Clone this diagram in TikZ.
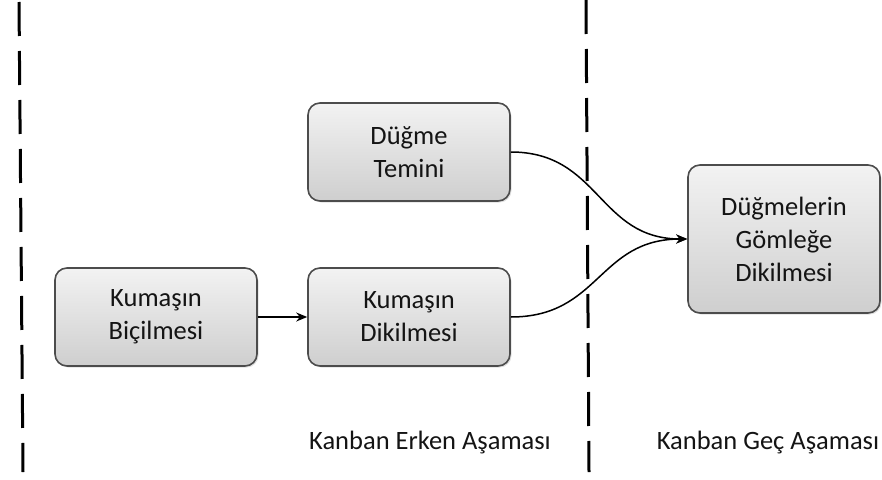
\documentclass[tikz,border=0pt]{standalone}
\usepackage{fontspec}
\setmainfont{Carlito}
\usepackage{tikz}
\usetikzlibrary{positioning,arrows.meta,shadows}

\begin{document}
\begin{tikzpicture}[x=1pt,y=-1pt,
		step box/.style={draw=black!70, line width=1.6pt, rounded corners=12pt,
			top color=black!5, bottom color=black!19, text=black!92,
			drop shadow={shadow xshift=1.5pt, shadow yshift=-1.5pt, opacity=0.25},
			align=center, font=\fontsize{26.5}{33}\selectfont, inner sep=0pt},
		phase/.style={black, line width=3pt, dash pattern=on 34pt off 15pt},
		link/.style={black, line width=1.5pt, -{Stealth[length=11pt,width=9pt]}}]
				\useasboundingbox (0,0) rectangle (882,479);
				% phase borders
				\draw[phase] (19,2) -- (23,472);
				\draw[phase] (586,0) -- (589,472);
				% steps
				\node[step box, minimum width=202pt, minimum height=98pt] (bicme) at (156,317) {Kumaşın\\Biçilmesi};
				\node[step box, minimum width=202pt, minimum height=98pt] (temin) at (409,152) {Düğme\\Temini};
				\node[step box, minimum width=202pt, minimum height=98pt] (dikme) at (409,317) {Kumaşın\\Dikilmesi};
				\node[step box, minimum width=192pt, minimum height=148pt] (gomlek) at (784,239) {Düğmelerin\\Gömleğe\\Dikilmesi};
				% links
				\draw[link] (bicme) -- (dikme);
				\draw[link] (temin.east) .. controls (600,152) and (598,239) .. (gomlek.west);
				\draw[link] (dikme.east) .. controls (600,317) and (598,239) .. (gomlek.west);
				% phase names
				\node[font=\fontsize{26.5}{33}\selectfont, text=black!92] (erken) at (430,443) {Kanban Erken Aşaması};
				\node[font=\fontsize{26.5}{33}\selectfont, text=black!92] (gec) at (768,443) {Kanban Geç Aşaması};
\end{tikzpicture}
\end{document}
